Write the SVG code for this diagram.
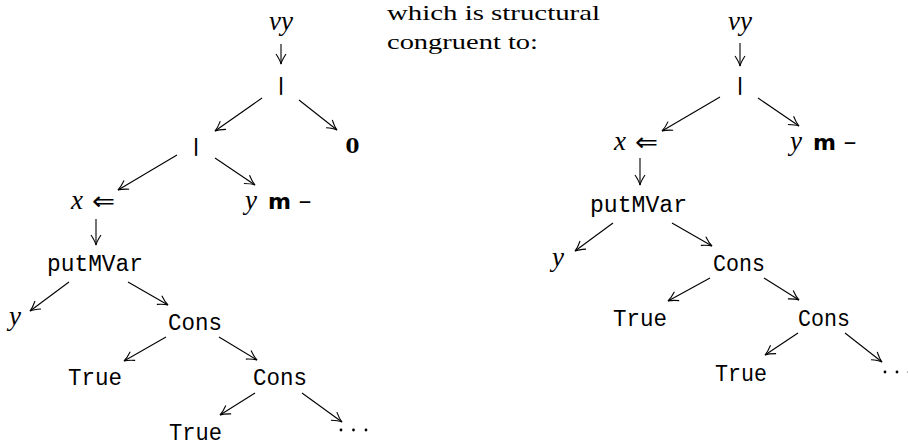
<svg xmlns="http://www.w3.org/2000/svg" width="908" height="448" viewBox="0 0 908 448">
<style>
.it{font-family:"Liberation Serif",serif;font-style:italic;font-size:27px;fill:#000}
.rm{font-family:"Liberation Serif",serif;font-size:22px;fill:#000}
.mi{font-family:"DejaVu Sans",sans-serif;font-size:22px;fill:#000}
.tt{font-family:"Liberation Mono",monospace;font-size:23px;fill:#000}
.bar{font-family:"DejaVu Sans",sans-serif;font-weight:bold;font-size:18px;fill:#000}
.bf{font-family:"DejaVu Serif",serif;font-weight:bold;font-size:20px;fill:#000}
.bm{font-family:"DejaVu Sans",sans-serif;font-weight:bold;font-size:21px;fill:#000}
.ar{font-family:"DejaVu Sans",sans-serif;font-size:26px;fill:#000}
.conn line{stroke:#000;stroke-width:1.1;fill:none;marker-end:url(#vee)}
.dot{fill:#000}
</style>
<defs>
<marker id="vee" markerUnits="userSpaceOnUse" markerWidth="14" markerHeight="14" refX="0" refY="0" viewBox="-12 -7 14 14" orient="auto" overflow="visible">
<path d="M-10,-5 Q-4,-1 0,0 Q-4,1 -10,5" fill="none" stroke="#000" stroke-width="1.1"/>
</marker>
</defs>
<rect width="908" height="448" fill="#fff"/>

<g id="caption">
<text class="rm" x="387" y="20" textLength="213" lengthAdjust="spacingAndGlyphs">which is structural</text>
<text class="rm" x="387" y="49" textLength="151" lengthAdjust="spacingAndGlyphs">congruent to:</text>
</g>

<!-- Left tree -->
<g id="L_nu"><text class="it" x="281" y="30" text-anchor="middle">νy</text></g>
<g id="L_par1"><text class="bar" x="281" y="91" text-anchor="middle">|</text></g>
<g id="L_zero"><text class="bf" x="352.5" y="153" text-anchor="middle">0</text></g>
<g id="L_par2"><text class="bar" x="196" y="152" text-anchor="middle">|</text></g>
<g id="L_xput"><text class="it" x="71" y="209">x</text><text class="ar" x="92" y="210" textLength="23" lengthAdjust="spacingAndGlyphs">⇐</text></g>
<g id="L_ytake"><text class="it" x="245" y="209">y</text><text class="bm" x="268" y="209" textLength="23" lengthAdjust="spacingAndGlyphs">m</text><text class="mi" x="298" y="209" textLength="14" lengthAdjust="spacingAndGlyphs">−</text></g>
<g id="L_putMVar"><text class="tt" x="47" y="271" textLength="96" lengthAdjust="spacingAndGlyphs">putMVar</text></g>
<g id="L_y"><text class="it" x="9" y="325">y</text></g>
<g id="L_cons1"><text class="tt" x="168" y="330" textLength="54" lengthAdjust="spacingAndGlyphs">Cons</text></g>
<g id="L_true1"><text class="tt" x="68" y="385" textLength="54" lengthAdjust="spacingAndGlyphs">True</text></g>
<g id="L_cons2"><text class="tt" x="253" y="385" textLength="54" lengthAdjust="spacingAndGlyphs">Cons</text></g>
<g id="L_true2"><text class="tt" x="169" y="440" textLength="53" lengthAdjust="spacingAndGlyphs">True</text></g>
<g id="L_dots"><circle class="dot" cx="341" cy="430" r="1.4"/><circle class="dot" cx="353.5" cy="430" r="1.4"/><circle class="dot" cx="366" cy="430" r="1.4"/></g>

<!-- Right tree -->
<g id="R_nu"><text class="it" x="740" y="30" text-anchor="middle">νy</text></g>
<g id="R_par"><text class="bar" x="740" y="91" text-anchor="middle">|</text></g>
<g id="R_xput"><text class="it" x="614" y="150">x</text><text class="ar" x="635" y="151" textLength="23" lengthAdjust="spacingAndGlyphs">⇐</text></g>
<g id="R_ytake"><text class="it" x="790" y="150">y</text><text class="bm" x="813" y="150" textLength="23" lengthAdjust="spacingAndGlyphs">m</text><text class="mi" x="843" y="150" textLength="14" lengthAdjust="spacingAndGlyphs">−</text></g>
<g id="R_putMVar"><text class="tt" x="590" y="212" textLength="97" lengthAdjust="spacingAndGlyphs">putMVar</text></g>
<g id="R_y"><text class="it" x="552" y="266">y</text></g>
<g id="R_cons1"><text class="tt" x="713" y="271" textLength="52" lengthAdjust="spacingAndGlyphs">Cons</text></g>
<g id="R_true1"><text class="tt" x="613" y="326" textLength="54" lengthAdjust="spacingAndGlyphs">True</text></g>
<g id="R_cons2"><text class="tt" x="798" y="326" textLength="52" lengthAdjust="spacingAndGlyphs">Cons</text></g>
<g id="R_true2"><text class="tt" x="715" y="381" textLength="52" lengthAdjust="spacingAndGlyphs">True</text></g>
<g id="R_dots"><circle class="dot" cx="885" cy="372" r="1.4"/><circle class="dot" cx="897" cy="372" r="1.4"/><circle class="dot" cx="909" cy="372" r="1.4"/></g>

<g id="connectors" class="conn">
<line x1="281" y1="44" x2="281" y2="64"/>
<line x1="262" y1="98" x2="215" y2="131"/>
<line x1="299" y1="100" x2="337" y2="130"/>
<line x1="177" y1="155" x2="118" y2="190"/>
<line x1="215" y1="158" x2="255" y2="185"/>
<line x1="96" y1="219" x2="96" y2="245"/>
<line x1="69" y1="282" x2="30" y2="311"/>
<line x1="128" y1="282" x2="168" y2="305"/>
<line x1="166" y1="337" x2="124" y2="361"/>
<line x1="219" y1="337" x2="257" y2="360"/>
<line x1="255" y1="393" x2="220" y2="415"/>
<line x1="302" y1="393" x2="342" y2="422"/>

<line x1="740" y1="43" x2="740" y2="66"/>
<line x1="720" y1="97" x2="662" y2="131"/>
<line x1="758" y1="98" x2="799" y2="126"/>
<line x1="640" y1="158" x2="640" y2="185"/>
<line x1="613" y1="223" x2="575" y2="251"/>
<line x1="672" y1="223" x2="712" y2="246"/>
<line x1="710" y1="278" x2="668" y2="301"/>
<line x1="764" y1="278" x2="799" y2="300"/>
<line x1="798" y1="333" x2="765" y2="355"/>
<line x1="845" y1="333" x2="882" y2="362"/>
</g>
</svg>
